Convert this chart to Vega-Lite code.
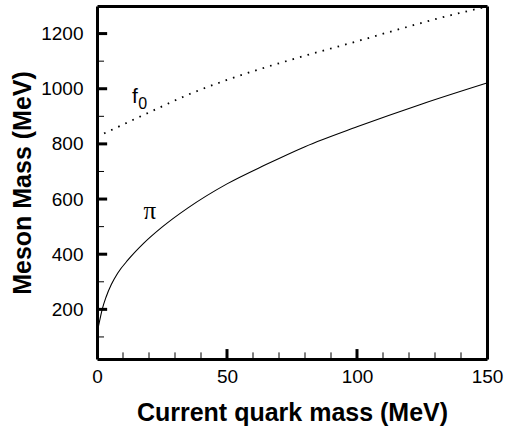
{
  "$schema": "https://vega.github.io/schema/vega-lite/v6.json",
  "width": 390,
  "height": 353,
  "autosize": {"type": "none"},
  "padding": {"left": 97, "top": 6, "right": 19, "bottom": 72},
  "background": "white",
  "config": {
    "view": {"stroke": null},
    "axis": {
      "domain": true,
      "domainColor": "black",
      "domainWidth": 3,
      "ticks": false,
      "grid": false,
      "labelFont": "Liberation Sans",
      "labelFontSize": 19,
      "labelColor": "black",
      "labelFlush": false,
      "labelOverlap": false,
      "labelBound": false,
      "titleFont": "Liberation Sans",
      "titleFontSize": 25,
      "titleFontWeight": "bold",
      "titleColor": "black"
    }
  },
  "datasets": {
    "pi": [
      {"m": 0, "mass": 100}, {"m": 0.5, "mass": 135}, {"m": 1, "mass": 158}, {"m": 2, "mass": 200},
      {"m": 3.5, "mass": 245}, {"m": 5.5, "mass": 290}, {"m": 8, "mass": 332}, {"m": 12, "mass": 380},
      {"m": 18, "mass": 440}, {"m": 25, "mass": 498}, {"m": 35, "mass": 568}, {"m": 50, "mass": 655},
      {"m": 65, "mass": 725}, {"m": 80, "mass": 790}, {"m": 100, "mass": 862}, {"m": 125, "mass": 945},
      {"m": 150, "mass": 1021}
    ],
    "f0": [
      {"m": 0, "mass": 826}, {"m": 10, "mass": 870}, {"m": 20, "mass": 914}, {"m": 37, "mass": 986},
      {"m": 50, "mass": 1032}, {"m": 76, "mass": 1109}, {"m": 100, "mass": 1172}, {"m": 114, "mass": 1210},
      {"m": 130, "mass": 1252}, {"m": 150, "mass": 1298}
    ],
    "labels": [
      {"m": 14.6, "mass": 947, "text": "f", "size": "big"},
      {"m": 17.6, "mass": 926, "text": "0", "size": "small"},
      {"m": 20.3, "mass": 526, "text": "π", "size": "pi"}
    ],
    "xticks": [
      {"v": 10, "kind": "minor"}, {"v": 20, "kind": "minor"}, {"v": 30, "kind": "minor"},
      {"v": 40, "kind": "minor"}, {"v": 50, "kind": "major"}, {"v": 60, "kind": "minor"}, {"v": 70, "kind": "minor"},
      {"v": 80, "kind": "minor"}, {"v": 90, "kind": "minor"}, {"v": 100, "kind": "major"}, {"v": 110, "kind": "minor"},
      {"v": 120, "kind": "minor"}, {"v": 130, "kind": "minor"}, {"v": 140, "kind": "minor"}
    ],
    "yticks": [
      {"v": 100, "kind": "minor"}, {"v": 200, "kind": "major"}, {"v": 300, "kind": "minor"}, {"v": 400, "kind": "major"},
      {"v": 500, "kind": "minor"}, {"v": 600, "kind": "major"}, {"v": 700, "kind": "minor"}, {"v": 800, "kind": "major"},
      {"v": 900, "kind": "minor"}, {"v": 1000, "kind": "major"}, {"v": 1100, "kind": "minor"}, {"v": 1200, "kind": "major"}
    ]
  },
  "resolve": {"axis": {"x": "independent", "y": "independent"}},
  "layer": [
    {
      "data": {"name": "pi"},
      "mark": {"type": "line", "color": "black", "strokeWidth": 1.1, "interpolate": "monotone", "clip": true},
      "encoding": {
        "x": {
          "field": "m", "type": "quantitative",
          "scale": {"domain": [0, 150], "nice": false, "zero": false},
          "axis": {
            "orient": "bottom",
            "values": [0, 50, 100, 150],
            "format": "d",
            "labelPadding": 8,
            "title": "Current quark mass (MeV)",
            "titlePadding": 14
          }
        },
        "y": {
          "field": "mass", "type": "quantitative",
          "scale": {"domain": [20, 1300], "nice": false, "zero": false},
          "axis": {
            "orient": "left",
            "values": [200, 400, 600, 800, 1000, 1200],
            "format": "d",
            "labelPadding": 14,
            "title": "Meson Mass (MeV)",
            "titlePadding": 5
          }
        }
      }
    },
    {
      "data": {"name": "f0"},
      "mark": {"type": "line", "color": "black", "strokeWidth": 1.8, "strokeDash": [1.6, 6.2], "strokeCap": "butt", "interpolate": "monotone", "clip": true},
      "encoding": {
        "x": {"field": "m", "type": "quantitative", "axis": {"orient": "top", "labels": false, "title": null, "values": []}},
        "y": {"field": "mass", "type": "quantitative", "axis": {"orient": "right", "labels": false, "title": null, "values": []}}
      }
    },
    {
      "data": {"name": "xticks"},
      "transform": [{"filter": "datum.kind === 'major'"}],
      "mark": {"type": "rule", "color": "black", "strokeWidth": 3, "strokeCap": "butt", "opacity": 1},
      "encoding": {
        "x": {"field": "v", "type": "quantitative", "axis": null},
        "y": {"datum": 20, "type": "quantitative", "axis": null},
        "y2": {"datum": 56}
      }
    },
    {
      "data": {"name": "xticks"},
      "transform": [{"filter": "datum.kind === 'minor'"}],
      "mark": {"type": "rule", "color": "black", "strokeWidth": 1, "strokeCap": "butt", "opacity": 1},
      "encoding": {
        "x": {"field": "v", "type": "quantitative", "axis": null},
        "y": {"datum": 20, "type": "quantitative", "axis": null},
        "y2": {"datum": 44}
      }
    },
    {
      "data": {"name": "yticks"},
      "transform": [{"filter": "datum.kind === 'major'"}],
      "mark": {"type": "rule", "color": "black", "strokeWidth": 3, "strokeCap": "butt", "opacity": 1},
      "encoding": {
        "y": {"field": "v", "type": "quantitative", "axis": null},
        "x": {"datum": 0, "type": "quantitative", "axis": null},
        "x2": {"datum": 3.9}
      }
    },
    {
      "data": {"name": "yticks"},
      "transform": [{"filter": "datum.kind === 'minor'"}],
      "mark": {"type": "rule", "color": "black", "strokeWidth": 1, "strokeCap": "butt", "opacity": 1},
      "encoding": {
        "y": {"field": "v", "type": "quantitative", "axis": null},
        "x": {"datum": 0, "type": "quantitative", "axis": null},
        "x2": {"datum": 2.7}
      }
    },
    {
      "data": {"name": "labels"},
      "transform": [{"filter": "datum.size === 'big'"}],
      "mark": {"type": "text", "font": "Liberation Sans", "fontSize": 21, "align": "center", "baseline": "alphabetic", "color": "black"},
      "encoding": {
        "x": {"field": "m", "type": "quantitative", "axis": null},
        "y": {"field": "mass", "type": "quantitative", "axis": null},
        "text": {"field": "text"}
      }
    },
    {
      "data": {"name": "labels"},
      "transform": [{"filter": "datum.size === 'small'"}],
      "mark": {"type": "text", "font": "Liberation Sans", "fontSize": 16, "align": "center", "baseline": "alphabetic", "color": "black"},
      "encoding": {
        "x": {"field": "m", "type": "quantitative", "axis": null},
        "y": {"field": "mass", "type": "quantitative", "axis": null},
        "text": {"field": "text"}
      }
    },
    {
      "data": {"name": "labels"},
      "transform": [{"filter": "datum.size === 'pi'"}],
      "mark": {"type": "text", "font": "Liberation Serif", "fontSize": 25, "align": "center", "baseline": "alphabetic", "color": "black"},
      "encoding": {
        "x": {"field": "m", "type": "quantitative", "axis": null},
        "y": {"field": "mass", "type": "quantitative", "axis": null},
        "text": {"field": "text"}
      }
    }
  ]
}
